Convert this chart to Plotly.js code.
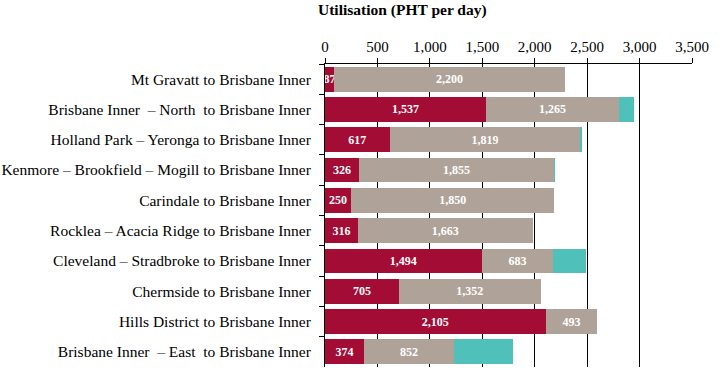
<!DOCTYPE html>
<html>
<head>
<meta charset="utf-8">
<script src="https://cdn.plot.ly/plotly-3.0.1.min.js"></script>
<style>html,body{margin:0;padding:0;background:#fff;}#chart{width:722px;height:374px;}</style>
</head>
<body>
<div id="chart"></div>
<script>
const categories = [
  "Mt Gravatt to Brisbane Inner",
  "Brisbane Inner  \u2013 North  to Brisbane Inner",
  "Holland Park \u2013 Yeronga to Brisbane Inner",
  "Kenmore \u2013 Brookfield \u2013 Mogill to Brisbane Inner",
  "Carindale to Brisbane Inner",
  "Rocklea \u2013 Acacia Ridge to Brisbane Inner",
  "Cleveland \u2013 Stradbroke to Brisbane Inner",
  "Chermside to Brisbane Inner",
  "Hills District to Brisbane Inner",
  "Brisbane Inner  \u2013 East  to Brisbane Inner"
];
const redValues  = [87, 1537, 617, 326, 250, 316, 1494, 705, 2105, 374];
const grayValues = [2200, 1265, 1819, 1855, 1935, 1663, 683, 1352, 493, 852];
const tealValues = [0, 145, 12, 8, 0, 0, 315, 0, 0, 570];
const redLabels  = ["87", "1,537", "617", "326", "250", "316", "1,494", "705", "2,105", "374"];
const grayLabels = ["2,200", "1,265", "1,819", "1,855", "1,850", "1,663", "683", "1,352", "493", "852"];
const xTicks = [0, 500, 1000, 1500, 2000, 2500, 3000, 3500];
const xTickLabels = ["0", "500", "1,000", "1,500", "2,000", "2,500", "3,000", "3,500"];

const serif = "Liberation Serif";
const textFont = {family: serif, size: 12, color: "#ffffff"};

const common = {
  type: "bar", orientation: "h", y: categories,
  textposition: "inside", insidetextanchor: "middle", constraintext: "none",
  texttemplate: "<b>%{text}</b>", textfont: textFont,
  hoverinfo: "none", showlegend: false
};

const data = [
  Object.assign({}, common, {x: redValues, text: redLabels, marker: {color: "#A30D35"}}),
  Object.assign({}, common, {x: grayValues, text: grayLabels, marker: {color: "#AFA399"}}),
  Object.assign({}, common, {x: tealValues, text: tealValues.map(() => ""), texttemplate: "", marker: {color: "#50C1BA"}})
];

const layout = {
  width: 722, height: 374,
  margin: {l: 325, r: 30, t: 64, b: 7, pad: 0},
  paper_bgcolor: "#ffffff", plot_bgcolor: "#ffffff",
  barmode: "stack", bargap: 0.18,
  font: {family: serif, size: 15.5, color: "#000000"},
  title: {
    text: "<b>Utilisation (PHT per day)</b>",
    font: {family: serif, size: 15.5, color: "#000000"},
    xref: "container", yref: "container",
    x: 318 / 722, xanchor: "left",
    y: 1 - 10 / 374, yanchor: "middle"
  },
  xaxis: {
    side: "top", range: [0, 3500], fixedrange: true,
    tickmode: "array", tickvals: xTicks, ticktext: xTickLabels,
    ticks: "outside", ticklen: 5, tickcolor: "#000", tickwidth: 1,
    showline: true, linecolor: "#000", linewidth: 1,
    showgrid: true, gridcolor: "#000", gridwidth: 1,
    zeroline: false,
    tickfont: {family: serif, size: 15, color: "#000"}
  },
  yaxis: {
    autorange: "reversed", type: "category",
    ticks: "outside", tickson: "boundaries", ticklen: 5, tickcolor: "#000",
    showline: true, linecolor: "#000", linewidth: 1,
    showgrid: false, zeroline: false,
    ticklabelstandoff: 10,
    tickfont: {family: serif, size: 15.5, color: "#000"}
  }
};

Plotly.newPlot("chart", data, layout, {displayModeBar: false, staticPlot: true});
</script>
</body>
</html>
